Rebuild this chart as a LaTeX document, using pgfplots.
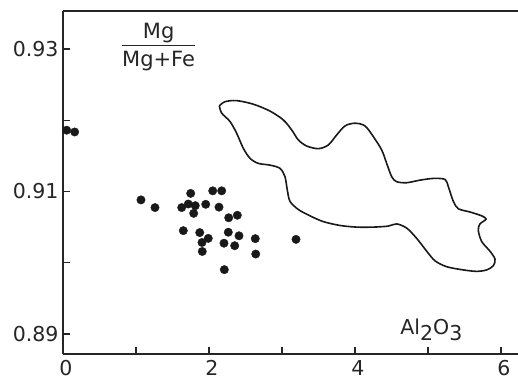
\documentclass[border=0pt]{standalone}
\usepackage{pgfplots}
\pgfplotsset{compat=1.18}
\usepackage{fontspec}
\setmainfont{DejaVu Sans}
\begin{document}
\begin{tikzpicture}
\begin{axis}[
  scale only axis, width=455pt, height=343pt,
  xmin=0, xmax=6.233, ymin=0.88719, ymax=0.93533,
  axis x line*=bottom, axis y line*=left,
  axis line style={line width=1.2pt, -, color=black!85},
  tick align=inside, major tick length=7pt,
  tick style={line width=1.2pt, color=black!85},
  xtick={0,1,2,3,4,5,6}, xticklabels={0,,2,,4,,6},
  ytick={0.89,0.90,0.91,0.92,0.93}, yticklabels={0.89,,0.91,,0.93},
  every tick label/.append style={font=\fontsize{20.5}{24}\selectfont, color=black!85},
  xticklabel style={yshift=-3pt, xshift=3pt},
  yticklabel style={xshift=-1pt},
  clip=false,
]
\coordinate (bl) at (rel axis cs:0,0);
\coordinate (tr) at (rel axis cs:1,1);
\draw[line width=1.2pt, black!85] (rel axis cs:0,1) -- (rel axis cs:1,1);
\addplot[only marks, mark=*, mark size=4.2pt, black!90] coordinates {
(0.05,0.91860) (0.16,0.91835)
(1.068,0.90882) (1.260,0.90774) (1.749,0.90973) (1.626,0.90774)
(1.716,0.90824) (1.812,0.90801) (1.790,0.90693) (1.955,0.90820)
(2.051,0.91009) (2.174,0.91009) (2.137,0.90780) (2.270,0.90631)
(2.388,0.90666) (1.648,0.90450) (1.873,0.90423) (1.990,0.90342)
(1.904,0.90284) (1.908,0.90158) (2.264,0.90428) (2.411,0.90378)
(2.205,0.90274) (2.352,0.90239) (2.634,0.90338) (2.640,0.90122)
(2.210,0.89903) (3.192,0.90328)
};
\addplot[smooth, tension=0.5, line width=1.6pt, black!90] coordinates {
(2.142,0.92201) (2.219,0.92260) (2.379,0.92275) (2.607,0.92225)
(2.836,0.92128) (3.018,0.92004) (3.133,0.91863) (3.224,0.91723)
(3.338,0.91638) (3.498,0.91601) (3.634,0.91652) (3.749,0.91793)
(3.863,0.91920) (4.000,0.91958) (4.137,0.91920) (4.251,0.91770)
(4.366,0.91582) (4.434,0.91394) (4.503,0.91207) (4.571,0.91137)
(4.708,0.91123) (4.890,0.91159) (5.073,0.91183) (5.233,0.91169)
(5.279,0.91066) (5.347,0.90861) (5.416,0.90757) (5.575,0.90712)
(5.736,0.90658) (5.795,0.90612) (5.712,0.90545) (5.689,0.90455)
(5.736,0.90297) (5.849,0.90162) (5.918,0.90050) (5.895,0.89958)
(5.804,0.89899) (5.667,0.89879) (5.484,0.89899) (5.256,0.89944)
(5.096,0.90027) (4.982,0.90162) (4.845,0.90342) (4.708,0.90486)
(4.571,0.90545) (4.456,0.90514) (4.251,0.90500) (4.023,0.90500)
(3.795,0.90523) (3.566,0.90577) (3.384,0.90658) (3.224,0.90747)
(3.110,0.90861) (3.073,0.91018) (3.041,0.91207) (2.973,0.91324)
(2.836,0.91370) (2.676,0.91394) (2.562,0.91465) (2.470,0.91606)
(2.379,0.91817) (2.288,0.91982) (2.174,0.92099) (2.142,0.92201)
};
\node[font=\fontsize{21}{24}\selectfont, black!85, inner sep=0pt] at (axis cs:1.31,0.9302)
  {\begin{tabular}{@{}c@{}}Mg\\[-1pt]\noalign{\hrule height 1.2pt}\rule{0pt}{20pt}Mg+Fe\end{tabular}};
\node[font=\fontsize{20.5}{24}\selectfont, black!85, anchor=base west, inner sep=0pt] at (axis cs:4.62,0.8899)
  {Al\raisebox{-0.3em}{2}O\raisebox{-0.3em}{3}};
\end{axis}
\pgfresetboundingbox
\path[use as bounding box] ([xshift=-63pt,yshift=-28pt]bl) rectangle ([yshift=11pt]tr);
\end{tikzpicture}
\end{document}
